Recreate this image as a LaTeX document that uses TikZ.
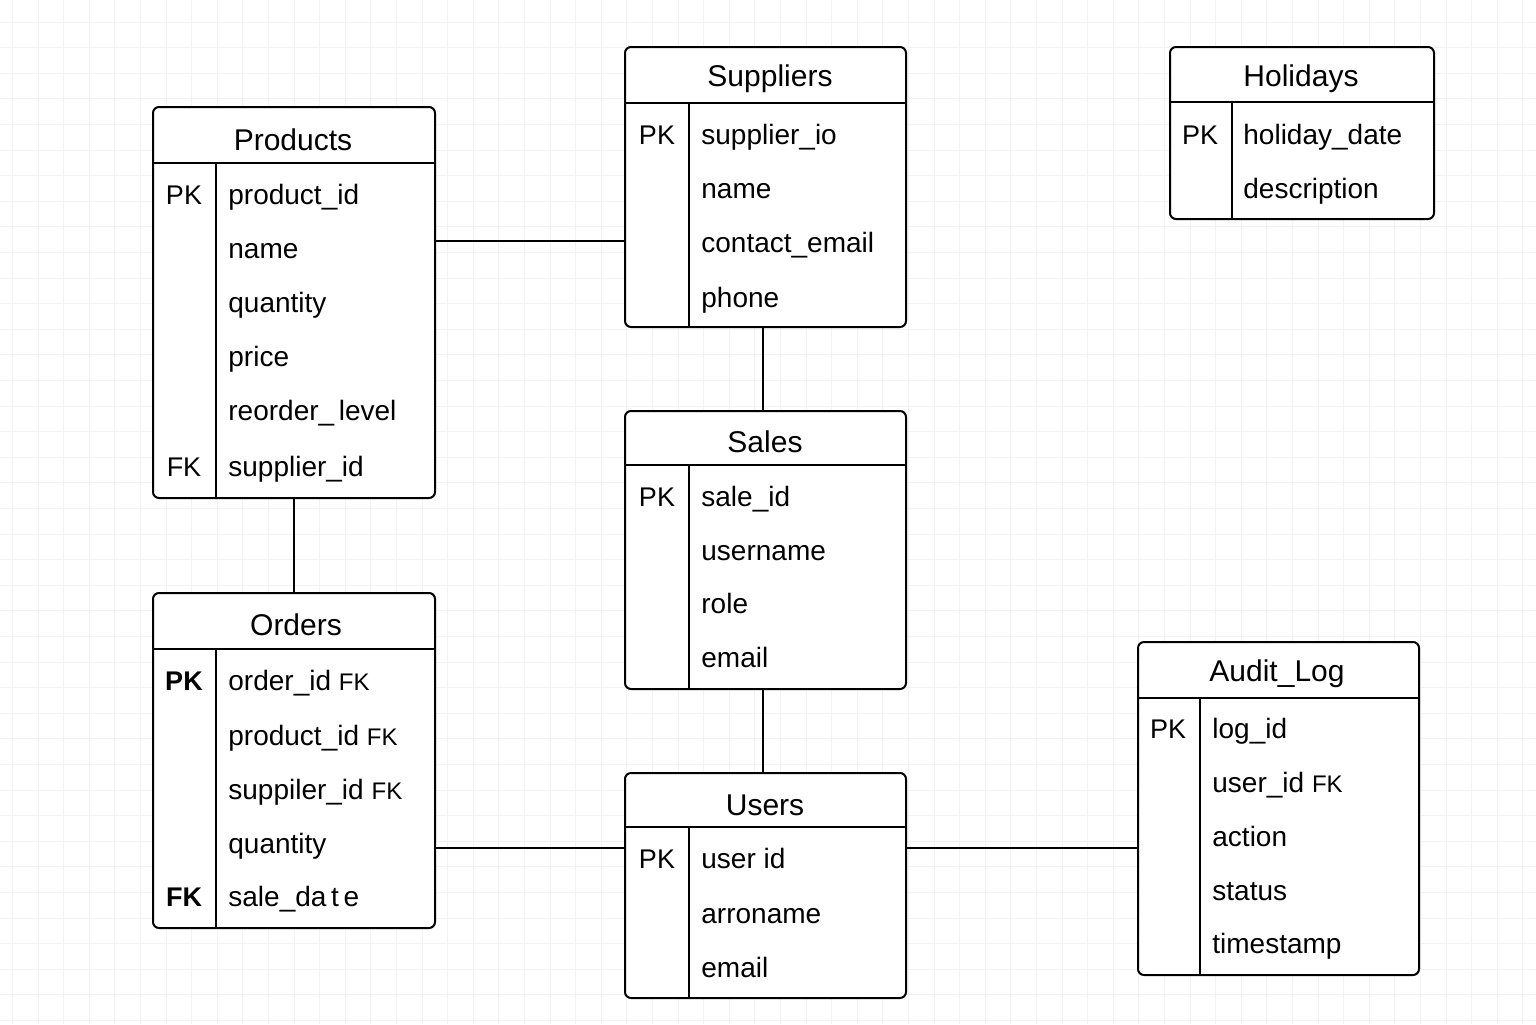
\documentclass[tikz,border=0pt]{standalone}
\usepackage{fontspec}
\setmainfont{Liberation Sans}
\usetikzlibrary{positioning}
\newcommand{\fksmall}{\fontsize{12}{14}\selectfont}
\tikzset{
	every node/.style={
		font=\fontsize{14}{16}\selectfont,
		inner sep=0pt
	},
	entity/.style={
		shape=rectangle,
		draw,
		line width=1pt,
		rounded corners=3pt,
		fill=white,
		anchor=north west
	},
	title/.style={
		font=\fontsize{15}{18}\selectfont,
		yshift=-1.5pt
	},
	field/.style={
		anchor=west,
		text height=10pt,
		text depth=3pt,
		yshift=-1.2pt
	},
	key/.style={
		font=\fontsize{13.5}{16}\selectfont,
		text height=10pt,
		text depth=3pt,
		yshift=-1.2pt
	},
	rule/.style={line width=0.9pt},
	link/.style={line width=1pt},
	gridline/.style={gray!10, line width=0.5pt}
}

\begin{document}
\begin{tikzpicture}[x=0.5pt, y=-0.5pt]

\useasboundingbox (0,0) rectangle (1536,1024);
\fill[white] (0,0) rectangle (1536,1024);
\foreach \i in {0,...,59} {
	\draw[gridline] (12.5+\i*25.6,0) -- (12.5+\i*25.6,1024);
}
\foreach \i in {0,...,39} {
	\draw[gridline] (0,22+\i*25.6) -- (1536,22+\i*25.6);
}

% Products
\node[entity, minimum width=141pt, minimum height=195.5pt] (products) at (152,106) {};
\node[title] (products title) at (293,137) {Products};
\draw[rule] (152,163) -- (434,163);
\draw[rule] (216,163) -- (216,497);
\foreach \y/\t in {195/product\_id, 249/name, 303/quantity, 357/price, 411/reorder\_\,level, 467/supplier\_id}
	\node[field] at (228,\y) {\t};
\node[key] (products pk) at (184,195) {PK};
\node[key] (products fk) at (184,467) {FK};

% Suppliers
\node[entity, minimum width=140.5pt, minimum height=140pt] (suppliers) at (624,46) {};
\node[title] (suppliers title) at (770,76) {Suppliers};
\draw[rule] (624,103) -- (905,103);
\draw[rule] (689,103) -- (689,326);
\foreach \y/\t in {135/supplier\_io, 189/name, 243/contact\_email, 298/phone}
	\node[field] at (701,\y) {\t};
\node[key] (suppliers pk) at (657,135) {PK};

% Holidays
\node[entity, minimum width=132pt, minimum height=86pt] (holidays) at (1169,46) {};
\node[title] (holidays title) at (1301,76) {Holidays};
\draw[rule] (1169,102) -- (1433,102);
\draw[rule] (1232,102) -- (1232,218);
\foreach \y/\t in {135/holiday\_date, 189/description}
	\node[field] at (1243,\y) {\t};
\node[key] (holidays pk) at (1200,135) {PK};

% Sales
\node[entity, minimum width=140.5pt, minimum height=139pt] (sales) at (624,410) {};
\node[title] (sales title) at (765,439) {Sales};
\draw[rule] (624,465) -- (905,465);
\draw[rule] (689,465) -- (689,688);
\foreach \y/\t in {497/sale\_id, 551/username, 604/role, 658/email}
	\node[field] at (701,\y) {\t};
\node[key] (sales pk) at (657,497) {PK};

% Orders
\node[entity, minimum width=141pt, minimum height=167.5pt] (orders) at (152,592) {};
\node[title] (orders title) at (296,622) {Orders};
\draw[rule] (152,649) -- (434,649);
\draw[rule] (216,649) -- (216,927);
\foreach \y/\t in {681/order\_id {\fksmall FK}, 736/product\_id {\fksmall FK}, 790/suppiler\_id {\fksmall FK}, 844/quantity, 897/sale\_da\,t\,e}
	\node[field] at (228,\y) {\t};
\node[key, font=\fontsize{13.5}{16}\selectfont\bfseries] (orders pk) at (184,681) {PK};
\node[key, font=\fontsize{13.5}{16}\selectfont\bfseries] (orders fk) at (184,897) {FK};

% Users
\node[entity, minimum width=140.5pt, minimum height=112.5pt] (users) at (624,772) {};
\node[title] (users title) at (765,802) {Users};
\draw[rule] (624,827) -- (905,827);
\draw[rule] (689,827) -- (689,997);
\foreach \y/\t in {859/user id, 914/arroname, 968/email}
	\node[field] at (701,\y) {\t};
\node[key] (users pk) at (657,859) {PK};

% Audit_Log
\node[entity, minimum width=140.5pt, minimum height=166.5pt] (audit) at (1137,641) {};
\node[title] (audit title) at (1277,671) {Audit\_Log};
\draw[rule] (1137,698) -- (1418,698);
\draw[rule] (1200,698) -- (1200,974);
\foreach \y/\t in {729/log\_id, 783/user\_id {\fksmall FK}, 837/action, 891/status, 944/timestamp}
	\node[field] at (1212,\y) {\t};
\node[key] (audit pk) at (1168,729) {PK};

% relations
\coordinate (upper) at (0,241);
\coordinate (lower) at (0,848);
\coordinate (middle) at (763,0);
\draw[link] (products.east |- upper) -- (suppliers.west |- upper);
\draw[link] (middle |- suppliers.south) -- (middle |- sales.north);
\draw[link] (products.south) -- (orders.north);
\draw[link] (middle |- sales.south) -- (middle |- users.north);
\draw[link] (orders.east |- lower) -- (users.west |- lower);
\draw[link] (users.east |- lower) -- (audit.west |- lower);

\end{tikzpicture}
\end{document}
